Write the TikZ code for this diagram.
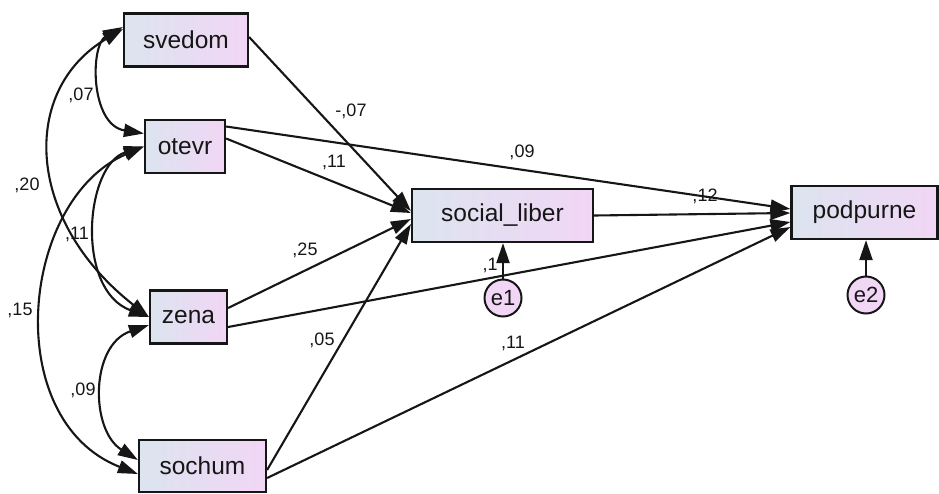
\documentclass[tikz,border=0pt]{standalone}
\usepackage{fontspec}
\setmainfont{Liberation Sans}
\usetikzlibrary{positioning}
\usetikzlibrary{arrows.meta}

\definecolor{izq}{HTML}{DCE4EF}
\definecolor{der}{HTML}{F1D6F5}
\definecolor{linea}{HTML}{161616}

\begin{document}
\begin{tikzpicture}[x=1pt, y=-1pt,
    var/.style={draw=linea, line width=2.2pt, rectangle, left color=izq, right color=der,
      minimum height=53pt, inner sep=0pt, text=linea, font=\fontsize{24.5}{27}\selectfont},
    err/.style={draw=linea, line width=2pt, circle, fill=der, minimum size=37pt,
      inner sep=0pt, text=linea, font=\fontsize{22}{24}\selectfont},
    num/.style={inner sep=0pt, text=linea, font=\fontsize{18}{20}\selectfont},
    reg/.style={-{Triangle[length=20pt,width=13pt]}, line width=2.1pt, draw=linea},
    cov/.style={{Triangle[length=20pt,width=13pt]}-{Triangle[length=20pt,width=13pt]},
      line width=2.1pt, draw=linea}]
            \useasboundingbox (0,0) rectangle (939,493);

            % Variables
            \node[var, minimum width=124pt] (svedom) at (186,40) {svedom};
            \node[var, minimum width=80pt] (otevr) at (185,146.5) {otevr};
            \node[var, minimum width=77pt] (zena) at (188.5,317) {zena};
            \node[var, minimum width=127pt, minimum height=52pt] (sochum) at (202.5,466) {sochum};
            \node[var, minimum width=181pt] (soc) at (502.5,215.5) {social\_liber};
            \node[var, minimum width=146pt] (podp) at (864.5,212.5) {podpurne};
            \node[err] (e1) at (503,298) {e1};
            \node[err] (e2) at (866,295) {e2};

            % Coeficientes
            \node[num] (l07) at (81,95) {,07};
            \node[num] (l20) at (27,185) {,20};
            \node[num] (l11a) at (77,234) {,11};
            \node[num] (l15) at (20,310) {,15};
            \node[num] (l09a) at (83,390) {,09};
            \node[num] (l07b) at (351,111) {-,07};
            \node[num] (l11b) at (334,162) {,11};
            \node[num] (l09b) at (522,152) {,09};
            \node[num] (l25) at (305,250) {,25};
            \node[num] (l05) at (322,340) {,05};
            \node[num] (l11c) at (513,343) {,11};
            \node[num] (l12) at (705,196) {,12};
            \node[num] (l1) at (490,265) {,1};

            % Caminos
            \draw[reg] ([yshift=3pt]svedom.east) -- ([yshift=4.5pt]soc.west);
            \draw[reg] ([yshift=8pt]otevr.east) -- ([yshift=2.5pt]soc.west);
            \draw[reg] ([yshift=20pt]otevr.east) -- ([yshift=3.5pt]podp.west);
            \draw[reg] ([yshift=9pt]zena.east) -- ([yshift=-3.5pt]soc.west);
            \draw[reg] ([yshift=-10pt]zena.east) -- ([yshift=-9.5pt]podp.west);
            \draw[reg] ([yshift=-4pt]sochum.east) -- ([yshift=-8.5pt]soc.west);
            \draw[reg] ([yshift=-12pt]sochum.east) -- ([yshift=-14.5pt]podp.west);
            \draw[reg] (soc.east) -- ([yshift=-0.5pt]podp.west);
            \draw[reg] (e1.north) -- (e1.north |- soc.south);
            \draw[reg] (e2.north) -- (e2.north |- podp.south);

            % Covarianzas
            \draw[cov] ([yshift=13pt]svedom.west) .. controls (90,45) and (90,125) .. ([yshift=13pt]otevr.west);
            \draw[cov] ([yshift=11pt]svedom.west) .. controls (20,90) and (25,220) .. (zena.west);
            \draw[cov] (otevr.west) .. controls (85,165) and (75,290) .. (zena.west);
            \draw[cov] (otevr.west) .. controls (20,200) and (0,420) .. ([yshift=-8pt]sochum.west);
            \draw[cov] ([yshift=-8pt]zena.west) .. controls (90,345) and (90,430) .. ([yshift=6pt]sochum.west);
          \end{tikzpicture}
\end{document}
